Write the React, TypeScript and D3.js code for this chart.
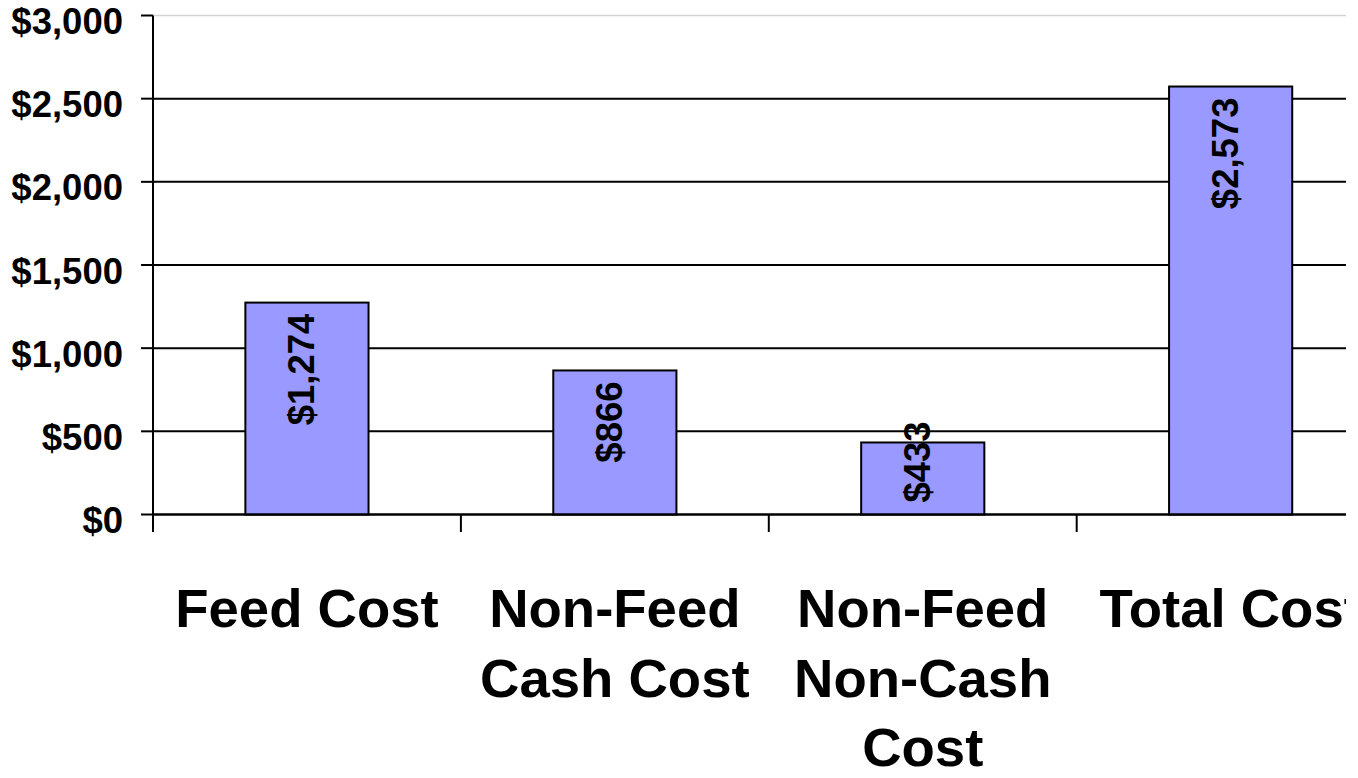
import React from "react";
import * as d3 from "d3";

const categories: string[][] = [
  ["Feed Cost"],
  ["Non-Feed", "Cash Cost"],
  ["Non-Feed", "Non-Cash", "Cost"],
  ["Total Cost"],
];
const categoryKeys = ["feed", "nonFeedCash", "nonFeedNonCash", "total"];
const values = [1274, 866, 433, 2573];
const valueLabels = ["$1,274", "$866", "$433", "$2,573"];
const yTicks = [0, 500, 1000, 1500, 2000, 2500, 3000];
const yTickLabels = ["$0", "$500", "$1,000", "$1,500", "$2,000", "$2,500", "$3,000"];

const W = 1358;
const H = 778;
const FONT = "'Liberation Sans', Arial, Helvetica, sans-serif";

export default function App() {
  const left = 153;
  const right = 153 + 4 * 307.9;
  const clipRight = 1346;
  const y = d3.scaleLinear().domain([0, 3000]).range([514.5, 15.5]);
  const x = d3
    .scaleBand<string>()
    .domain(categoryKeys)
    .range([left, right])
    .paddingInner(0.6)
    .paddingOuter(0.3);
  const step = x.step();
  const bw = x.bandwidth();
  const valFs = 36.5;
  const catFs = 54.5;
  const boundaries = d3.range(categoryKeys.length + 1).map((i) => left + i * step);

  return (
    <svg
      width={W}
      height={H}
      style={{ position: "fixed", top: 0, left: 0, background: "#fff" }}
      fontFamily={FONT}
    >
      <defs>
        <clipPath id="clipR">
          <rect x={0} y={0} width={clipRight} height={H} />
        </clipPath>
      </defs>
      <rect x={0} y={0} width={W} height={H} fill="#fff" />
      <g clipPath="url(#clipR)">
        {yTicks.map((t) => (
          <line
            key={"g" + t}
            x1={left}
            x2={right}
            y1={y(t)}
            y2={y(t)}
            stroke={t === 3000 ? "#d4d4d4" : "#000"}
            strokeWidth={t === 3000 ? 1.5 : 2}
          />
        ))}
        {categoryKeys.map((k, i) => (
          <rect
            key={"b" + k}
            x={x(k)!}
            y={y(values[i])}
            width={bw}
            height={y(0) - y(values[i])}
            fill="#9999FF"
            stroke="#000"
            strokeWidth={2}
          />
        ))}
        {categoryKeys.map((k, i) => {
          const cx = x(k)! + bw / 2;
          const len =
            valueLabels[i].length * 0.556 * valFs -
            (valueLabels[i].includes(",") ? 0.278 * valFs : 0);
          const top = Math.min(y(values[i]) + 11, y(0) - 12 - len);
          return (
            <text
              key={"v" + k}
              transform={`translate(${cx + 7},${top}) rotate(-90)`}
              textAnchor="end"
              fontSize={valFs}
              fontWeight="bold"
              fill="#000"
            >
              {valueLabels[i]}
            </text>
          );
        })}
        <line x1={left} x2={right} y1={y(0)} y2={y(0)} stroke="#000" strokeWidth={2} />
        {boundaries.map((b, i) => (
          <line key={"t" + i} x1={b} x2={b} y1={y(0)} y2={532} stroke="#000" strokeWidth={2} />
        ))}
        {categoryKeys.map((k, i) => {
          const cx = x(k)! + bw / 2;
          return (
            <text
              key={"c" + k}
              x={cx}
              textAnchor="middle"
              fontSize={catFs}
              fontWeight="bold"
              fill="#000"
            >
              {categories[i].map((line, j) => (
                <tspan key={j} x={cx} y={627 + j * 69.5}>
                  {line}
                </tspan>
              ))}
            </text>
          );
        })}
      </g>
      <line x1={left} x2={left} y1={y(3000)} y2={532} stroke="#000" strokeWidth={2} />
      {yTicks.map((t, i) => (
        <g key={"yt" + t}>
          <line x1={141} x2={left} y1={y(t)} y2={y(t)} stroke="#000" strokeWidth={2} />
          <text
            x={123}
            y={y(t) + 18.5}
            textAnchor="end"
            fontSize={36.5}
            fontWeight="bold"
            fill="#000"
          >
            {yTickLabels[i]}
          </text>
        </g>
      ))}
    </svg>
  );
}
